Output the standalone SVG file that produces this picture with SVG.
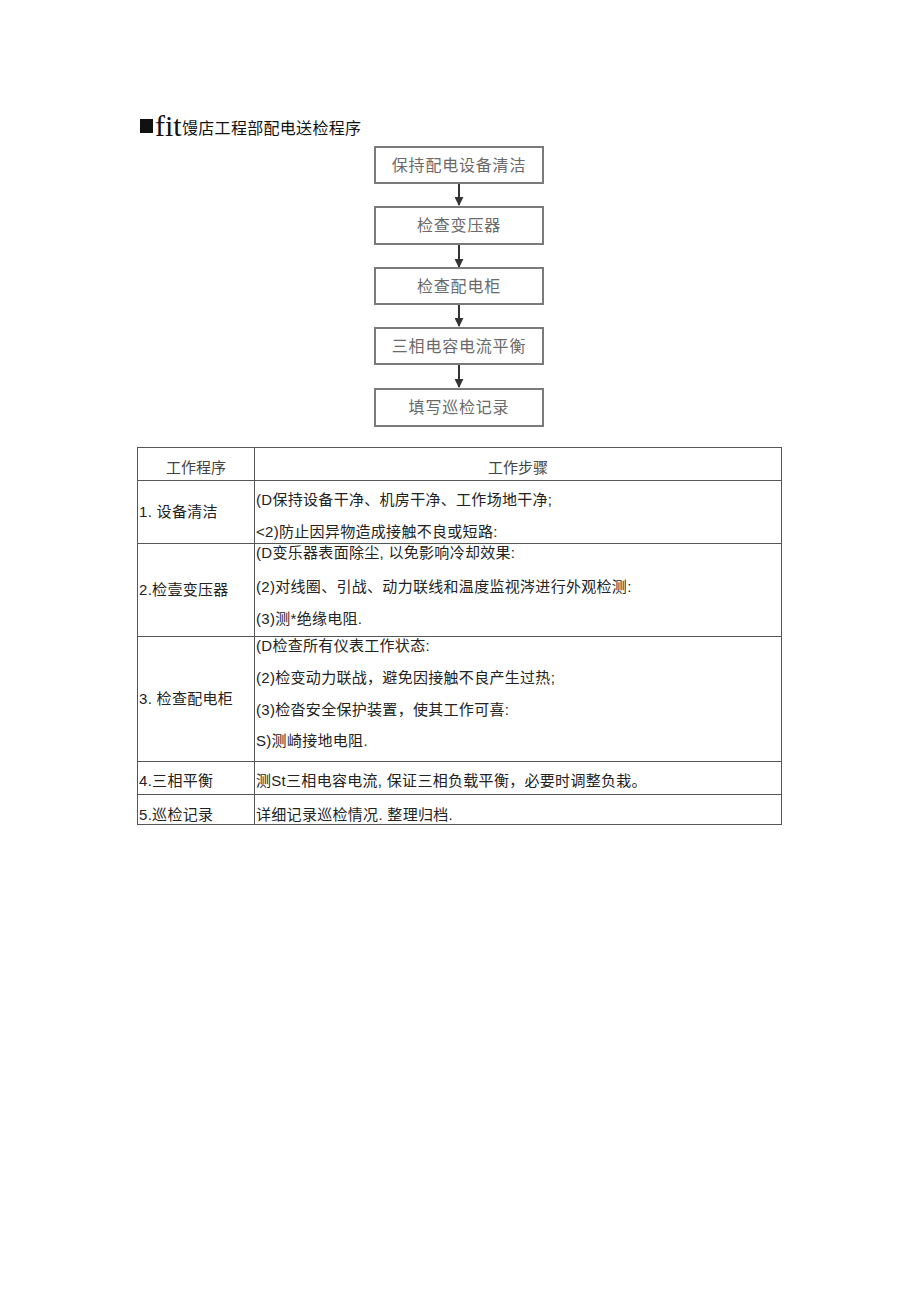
<svg xmlns="http://www.w3.org/2000/svg" width="920" height="1301" viewBox="0 0 920 1301">
<style>
.t{font-family:"Liberation Sans","Noto Sans CJK SC",sans-serif;font-size:15px;fill:#222;letter-spacing:0.3px}
.h{font-family:"Liberation Sans","Noto Sans CJK SC",sans-serif;font-size:15px;fill:#444;text-anchor:middle}
.bx{fill:#fff;stroke:#7a7a7a;stroke-width:2}
.bt{font-family:"Noto Sans CJK SC",sans-serif;font-size:16px;fill:#6a6a6a;text-anchor:middle;letter-spacing:0.8px}
.ln{stroke:#333;stroke-width:2;fill:none}
.g{stroke:#555;stroke-width:1;fill:none}
</style>
<defs>
<marker id="ah" viewBox="0 0 10 10" refX="9" refY="5" markerWidth="9" markerHeight="9" orient="auto" markerUnits="userSpaceOnUse">
<path d="M0,0 L10,5 L0,10 z" fill="#333"/>
</marker>
</defs>
<rect width="920" height="1301" fill="#fff"/>
<g id="title">
<rect x="140" y="119" width="13" height="14" fill="#111"/>
<text x="155" y="136" style="font-family:'Liberation Serif',serif;font-size:30px;fill:#111">fit</text>
<text x="182" y="134" style="font-family:'Noto Sans CJK SC',sans-serif;font-size:16px;fill:#111;letter-spacing:0.3px">馒店工程部配电送检程序</text>
</g>
<g id="connectors">
<line class="ln" x1="459" y1="184" x2="459" y2="205" marker-end="url(#ah)"/>
<line class="ln" x1="459" y1="245" x2="459" y2="267" marker-end="url(#ah)"/>
<line class="ln" x1="459" y1="305" x2="459" y2="326" marker-end="url(#ah)"/>
<line class="ln" x1="459" y1="365" x2="459" y2="387" marker-end="url(#ah)"/>
</g>
<g id="n1"><rect class="bx" x="375" y="147" width="168" height="36"/><text class="bt" x="459" y="171">保持配电设备清洁</text></g>
<g id="n2"><rect class="bx" x="375" y="207" width="168" height="37"/><text class="bt" x="459" y="231">检查变压器</text></g>
<g id="n3"><rect class="bx" x="375" y="268" width="168" height="36"/><text class="bt" x="459" y="292">检查配电柜</text></g>
<g id="n4"><rect class="bx" x="375" y="328" width="168" height="36"/><text class="bt" x="459" y="352">三相电容电流平衡</text></g>
<g id="n5"><rect class="bx" x="375" y="389" width="168" height="37"/><text class="bt" x="459" y="413">填写巡检记录</text></g>
<g id="table">
<rect class="g" x="137.5" y="447.5" width="644" height="377"/>
<line class="g" x1="254.5" y1="447" x2="254.5" y2="825"/>
<line class="g" x1="137" y1="480.5" x2="782" y2="480.5"/>
<line class="g" x1="137" y1="543.5" x2="782" y2="543.5"/>
<line class="g" x1="137" y1="636.5" x2="782" y2="636.5"/>
<line class="g" x1="137" y1="761.5" x2="782" y2="761.5"/>
<line class="g" x1="137" y1="794.5" x2="782" y2="794.5"/>
<text class="h" x="196" y="473">工作程序</text>
<text class="h" x="518" y="473">工作步骤</text>
<text class="t" x="139" y="517">1. 设备清洁</text>
<text class="t" x="256" y="505">(D保持设备干净、机房干净、工作场地干净;</text>
<text class="t" x="256" y="537">&lt;2)防止因异物造成接触不良或短路:</text>
<text class="t" x="139" y="595">2.检壹变压器</text>
<text class="t" x="256" y="558">(D变乐器表面除尘, 以免影响冷却效果:</text>
<text class="t" x="256" y="592">(2)对线圈、引战、动力联线和温度监视涔进行外观检测:</text>
<text class="t" x="256" y="624">(3)测*绝缘电阻.</text>
<text class="t" x="139" y="704">3. 检查配电柜</text>
<text class="t" x="256" y="651">(D检查所有仪表工作状态:</text>
<text class="t" x="256" y="683">(2)检变动力联战，避免因接触不良产生过热;</text>
<text class="t" x="256" y="715">(3)检沓安全保护装置，使其工作可喜:</text>
<text class="t" x="256" y="746">S)测崎接地电阻.</text>
<text class="t" x="139" y="786">4.三相平衡</text>
<text class="t" x="256" y="786">测St三相电容电流, 保证三相负载平衡，必要时调整负栽。</text>
<text class="t" x="139" y="820">5.巡检记录</text>
<text class="t" x="256" y="820">详细记录巡检情况. 整理归档.</text>
</g>
</svg>
